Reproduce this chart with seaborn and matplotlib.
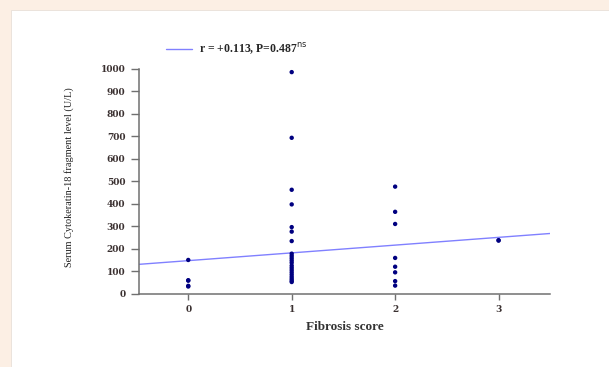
import numpy as np
import pandas as pd
import matplotlib
matplotlib.use("Agg")
import matplotlib.pyplot as plt
import seaborn as sns
from matplotlib.patches import Rectangle

# -----------------------------
# data
# -----------------------------
score_0 = [150, 60, 58, 35, 32]
score_1 = [985, 693, 462, 397, 296, 276, 234,
           178, 168, 158, 148, 138, 125, 115, 105, 95, 85, 75, 66, 58, 52]
score_2 = [476, 364, 310, 159, 120, 95, 56, 36]
score_3 = [236, 238]

fit_intercept = 147
fit_slope = 34.5
fit_label = r"r = +0.113, P=0.487$^{\mathrm{ns}}$"

x_ticks = [0, 1, 2, 3]
y_ticks = list(range(0, 1001, 100))

df = pd.DataFrame({
    "score": [0] * len(score_0) + [1] * len(score_1) + [2] * len(score_2) + [3] * len(score_3),
    "ck18": score_0 + score_1 + score_2 + score_3,
})

# -----------------------------
# figure
# -----------------------------
sns.set_style("ticks")
plt.rcParams["font.family"] = ["Liberation Serif", "DejaVu Serif"]

fig = plt.figure(figsize=(6.09, 3.67), dpi=100)
fig.patch.set_facecolor("#fcefe4")
fig.patches.append(Rectangle((11 / 609, 0), 1, 1 - 10 / 367, transform=fig.transFigure,
                             facecolor="white", edgecolor="#e8e0d8", lw=0.6, zorder=-5))

ax = fig.add_axes([0.2276, 0.1997, 0.676, 0.613])
ax.set_zorder(2)
ax.set_facecolor("none")

sns.scatterplot(data=df, x="score", y="ck18", ax=ax, color="#000080",
                s=10, edgecolor="none", zorder=3)

xs = np.array([-0.48, 3.5])
ax.plot(xs, fit_intercept + fit_slope * xs, color="#8080ff", lw=1.0, label=fit_label, zorder=2)

ax.set_xlim(-0.48, 3.5)
ax.set_ylim(0, 1000)
ax.set_xticks(x_ticks)
ax.set_yticks(y_ticks)
ax.tick_params(axis="both", colors="#707070", width=1, labelsize=6.5, labelcolor="#3a3030")
ax.tick_params(axis="y", length=6, pad=3.5)
ax.tick_params(axis="x", length=4.5, pad=3.5)
for lab in ax.get_xticklabels() + ax.get_yticklabels():
    lab.set_fontweight("bold")
    lab.set_family(["DejaVu Serif"])

for side in ["top", "right"]:
    ax.spines[side].set_visible(False)
for side in ["left", "bottom"]:
    ax.spines[side].set_color("#707070")
    ax.spines[side].set_linewidth(1.1)

ax.set_xlabel("Fibrosis score", fontsize=9.5, fontweight="bold", color="#333333", labelpad=5)
ax.set_ylabel("Serum Cytokeratin-18 fragment level (U/L)", fontsize=7.4, color="#222222")
ax.yaxis.set_label_coords(-0.158, 0.52)

ax.legend(loc="center left", bbox_to_anchor=(0.255, 1 - 49 / 367), bbox_transform=fig.transFigure,
          frameon=False, prop={"size": 8.5, "weight": "bold"}, handlelength=2.2, handletextpad=0.6)

fig.savefig("out.png", dpi=100, facecolor=fig.get_facecolor())
